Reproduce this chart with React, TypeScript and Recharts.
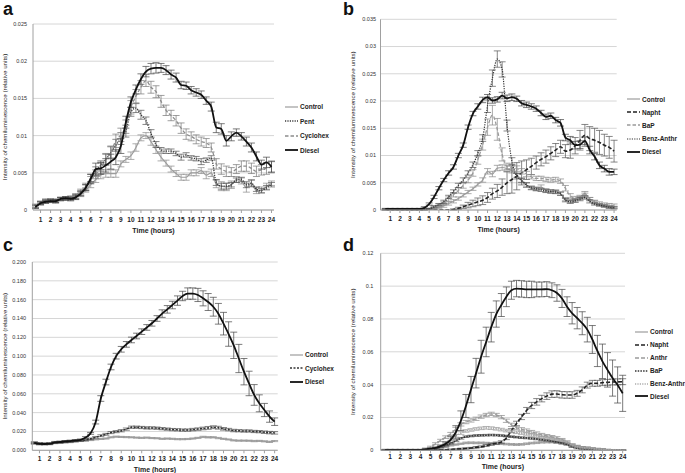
import React from "react";
import {
  LineChart,
  Line,
  XAxis,
  YAxis,
  CartesianGrid,
  ErrorBar,
  Legend,
  Label,
} from "recharts";

// sampling times (every half hour)
const hours = [
  0.5, 1, 1.5, 2, 2.5, 3, 3.5, 4, 4.5, 5, 5.5, 6, 6.5, 7, 7.5, 8, 8.5, 9, 9.5, 10,
  10.5, 11, 11.5, 12, 12.5, 13, 13.5, 14, 14.5, 15, 15.5, 16, 16.5, 17, 17.5, 18,
  18.5, 19, 19.5, 20, 20.5, 21, 21.5, 22, 22.5, 23, 23.5, 24,
];
const hourTicks = [1, 2, 3, 4, 5, 6, 7, 8, 9, 10, 11, 12, 13, 14, 15, 16, 17, 18, 19, 20, 21, 22, 23, 24];

const yTicksA = [0, 0.005, 0.01, 0.015, 0.02, 0.025];
const yTicksB = [0, 0.005, 0.01, 0.015, 0.02, 0.025, 0.03, 0.035];
const yTicksC = [0, 0.02, 0.04, 0.06, 0.08, 0.1, 0.12, 0.14, 0.16, 0.18, 0.2];
const yTicksD = [0, 0.02, 0.04, 0.06, 0.08, 0.1, 0.12];

// ---- panel a ----
const controlA = [0.0005,0.0009,0.0011,0.0012,0.0011,0.0014,0.0015,0.0014,0.0017,0.0021,
  0.0027,0.0034,0.0041,0.0047,0.0049,0.0049,0.0049,0.0062,0.0068,0.0073,
  0.0084,0.0097,0.01,0.0092,0.0081,0.0071,0.0063,0.0055,0.0049,0.0044,
  0.0044,0.005,0.005,0.0053,0.0047,0.005,0.0035,0.0032,0.0031,0.0034,
  0.0041,0.0039,0.003,0.0036,0.0026,0.0027,0.0032,0.0036];
const controlErrA = [0.0002,0.0002,0.0002,0.0002,0.0002,0.0002,0.0002,0.0002,0.0002,0.0003,
  0.0003,0.0004,0.0004,0.0005,0.0005,0.0005,0.0005,0.0004,0.0004,0.0005,
  0.0005,0.0004,0.0004,0.0005,0.0005,0.0005,0.0004,0.0004,0.0004,0.0004,
  0.0004,0.0004,0.0004,0.0004,0.0005,0.0005,0.0005,0.0006,0.0005,0.0005,
  0.0004,0.0004,0.0006,0.0005,0.0004,0.0004,0.0004,0.0003];
const pentA = [0.0005,0.001,0.0012,0.0013,0.0012,0.0015,0.0015,0.0016,0.0018,0.0023,
  0.003,0.0043,0.0052,0.006,0.0068,0.0077,0.0087,0.0096,0.0106,0.0132,
  0.0137,0.0128,0.012,0.0103,0.0088,0.0081,0.0079,0.0079,0.0076,0.0071,
  0.0074,0.007,0.0069,0.0065,0.0067,0.007,0.0037,0.0032,0.0032,0.0034,
  0.004,0.0041,0.0034,0.0036,0.0028,0.0026,0.003,0.0034];
const pentErrA = [0.0002,0.0002,0.0002,0.0002,0.0002,0.0002,0.0002,0.0002,0.0003,0.0003,
  0.0004,0.0005,0.0006,0.0006,0.0007,0.0008,0.0008,0.0008,0.0008,0.0006,
  0.0006,0.0006,0.0005,0.0005,0.0004,0.0003,0.0003,0.0003,0.0003,0.0004,
  0.0003,0.0003,0.0003,0.0004,0.0003,0.0003,0.0004,0.0004,0.0004,0.0003,
  0.0003,0.0003,0.0004,0.0004,0.0003,0.0003,0.0003,0.0003];
const cyclohexA = [0.0006,0.0009,0.0013,0.0013,0.0013,0.0015,0.0016,0.0017,0.0019,0.0025,
  0.0032,0.004,0.0048,0.0056,0.0068,0.0078,0.0093,0.0101,0.0112,0.0138,
  0.0153,0.0165,0.0174,0.0165,0.0159,0.0146,0.0134,0.0127,0.012,0.011,
  0.0102,0.0099,0.0095,0.0092,0.009,0.0084,0.0062,0.0055,0.0052,0.0051,
  0.0055,0.0059,0.0059,0.0056,0.0052,0.0054,0.0056,0.0058];
const cyclohexErrA = [0.0002,0.0002,0.0002,0.0002,0.0002,0.0002,0.0002,0.0002,0.0003,0.0003,
  0.0004,0.0005,0.0006,0.0007,0.0008,0.0008,0.0009,0.0009,0.0009,0.0009,
  0.0009,0.0009,0.0008,0.0008,0.0008,0.0008,0.0007,0.0007,0.0007,0.0007,
  0.0007,0.0006,0.0006,0.0006,0.0006,0.0006,0.0007,0.0007,0.0007,0.0006,
  0.0006,0.0007,0.0007,0.0007,0.0007,0.0007,0.0008,0.0008];
const dieselA = [0.0004,0.0009,0.0011,0.0012,0.0012,0.0015,0.0016,0.0015,0.0017,0.0022,
  0.003,0.0042,0.0055,0.0056,0.006,0.0065,0.0071,0.0086,0.0118,0.0145,
  0.0162,0.0176,0.0186,0.019,0.0191,0.0191,0.0188,0.0182,0.0178,0.0168,
  0.0167,0.0161,0.0158,0.0155,0.0147,0.0139,0.0111,0.0109,0.0093,0.0099,
  0.0104,0.0099,0.0092,0.0084,0.0072,0.0061,0.0064,0.0058];
const dieselErrA = [0.0002,0.0002,0.0002,0.0002,0.0002,0.0002,0.0002,0.0002,0.0003,0.0003,
  0.0004,0.0006,0.0008,0.0008,0.0009,0.001,0.001,0.001,0.0008,0.0007,
  0.0006,0.0007,0.0007,0.0007,0.0007,0.0006,0.0006,0.0006,0.0006,0.0005,
  0.0005,0.0005,0.0005,0.0005,0.0005,0.0006,0.0007,0.0007,0.0007,0.0006,
  0.0005,0.0005,0.0006,0.0006,0.0006,0.0006,0.0007,0.0007];

// ---- panel b ----
const controlB = [0.0001,0.0001,0.0001,0.0001,0.0001,0.0001,0.0001,0.0001,0.0001,0.0002,
  0.0003,0.0005,0.0008,0.0012,0.0016,0.0021,0.0027,0.0033,0.0039,0.0047,
  0.0055,0.0071,0.0066,0.0077,0.0078,0.0076,0.0072,0.0064,0.0055,0.0046,
  0.004,0.0038,0.0042,0.0036,0.0034,0.0034,0.003,0.002,0.0017,0.0018,
  0.0024,0.003,0.002,0.0014,0.001,0.0008,0.0006,0.0005];
const controlErrB = [0.0001,0.0001,0.0001,0.0001,0.0001,0.0001,0.0001,0.0001,0.0001,0.0001,
  0.0002,0.0002,0.0003,0.0003,0.0003,0.0003,0.0003,0.0003,0.0003,0.0003,
  0.0004,0.0005,0.0005,0.0005,0.0005,0.0005,0.0004,0.0004,0.0004,0.0004,
  0.0003,0.0003,0.0004,0.0003,0.0003,0.0003,0.0003,0.0003,0.0003,0.0003,
  0.0003,0.0004,0.0003,0.0003,0.0002,0.0002,0.0002,0.0002];
const naphtB = [0,0,0,0,0,0,0,0,0,0,
  0,0,0,0,0.0001,0.0003,0.0006,0.0009,0.0012,0.0015,
  0.0018,0.0023,0.003,0.0035,0.0042,0.005,0.0056,0.0062,0.0068,0.0074,
  0.008,0.0087,0.0093,0.0098,0.0104,0.011,0.0116,0.0108,0.011,0.0118,
  0.0128,0.0137,0.0131,0.0128,0.0124,0.0119,0.0115,0.0108];
const naphtErrB = [0,0,0,0,0,0,0,0,0,0,
  0,0,0,0,0.0001,0.0002,0.0003,0.0005,0.0006,0.0007,
  0.0008,0.0009,0.001,0.0012,0.0015,0.002,0.0025,0.0025,0.0022,0.0018,
  0.0015,0.0012,0.0012,0.0012,0.0012,0.0012,0.0012,0.0012,0.0015,0.0015,
  0.0018,0.002,0.0022,0.0022,0.0022,0.002,0.002,0.002];
const bapB = [0.0001,0.0001,0.0001,0.0001,0.0001,0.0001,0.0001,0.0001,0.0001,0.0002,
  0.0004,0.0008,0.0012,0.002,0.0028,0.0036,0.0045,0.0055,0.0068,0.0092,
  0.012,0.0152,0.0174,0.0148,0.0102,0.008,0.0078,0.0076,0.0071,0.0066,
  0.0061,0.0058,0.0058,0.0056,0.0055,0.0056,0.0053,0.004,0.0026,0.0022,
  0.0022,0.0027,0.002,0.0015,0.0012,0.001,0.0009,0.0008];
const bapErrB = [0.0001,0.0001,0.0001,0.0001,0.0001,0.0001,0.0001,0.0001,0.0001,0.0001,
  0.0002,0.0003,0.0003,0.0004,0.0004,0.0005,0.0005,0.0005,0.0006,0.0008,
  0.001,0.0015,0.0018,0.002,0.0012,0.0006,0.0005,0.0005,0.0005,0.0005,
  0.0004,0.0004,0.0004,0.0004,0.0004,0.0004,0.0004,0.0005,0.0004,0.0003,
  0.0003,0.0004,0.0003,0.0003,0.0003,0.0003,0.0003,0.0003];
const benzB = [0.0001,0.0001,0.0001,0.0001,0.0001,0.0001,0.0001,0.0001,0.0001,0.0002,
  0.0006,0.001,0.0015,0.0024,0.0034,0.0045,0.0055,0.0068,0.0083,0.0104,
  0.0132,0.0192,0.0242,0.0277,0.0258,0.0155,0.009,0.0062,0.0054,0.0046,
  0.0041,0.0039,0.0037,0.0035,0.0034,0.0033,0.003,0.0018,0.0015,0.0017,
  0.002,0.0023,0.0016,0.0011,0.0009,0.0007,0.0005,0.0004];
const benzErrB = [0.0001,0.0001,0.0001,0.0001,0.0001,0.0001,0.0001,0.0001,0.0001,0.0001,
  0.0002,0.0002,0.0003,0.0003,0.0003,0.0004,0.0004,0.0004,0.0005,0.0005,
  0.0006,0.0013,0.0015,0.0015,0.0014,0.001,0.0006,0.0005,0.0004,0.0004,
  0.0003,0.0003,0.0003,0.0003,0.0003,0.0003,0.0003,0.0003,0.0003,0.0003,
  0.0003,0.0003,0.0003,0.0002,0.0002,0.0002,0.0002,0.0002];
const dieselB = [0.0002,0.0002,0.0002,0.0002,0.0002,0.0002,0.0002,0.0002,0.0004,0.0011,
  0.0024,0.004,0.0055,0.0068,0.0079,0.01,0.0119,0.0152,0.0177,0.019,
  0.0202,0.0207,0.0201,0.0203,0.021,0.0205,0.0207,0.0204,0.0196,0.0193,
  0.019,0.0186,0.0178,0.0171,0.0173,0.0165,0.016,0.0133,0.0128,0.0119,
  0.012,0.0127,0.011,0.0098,0.0082,0.0076,0.007,0.007];
const dieselErrB = [0.0001,0.0001,0.0001,0.0001,0.0001,0.0001,0.0001,0.0001,0.0002,0.0002,
  0.0003,0.0003,0.0003,0.0004,0.0004,0.0004,0.0004,0.0004,0.0004,0.0005,
  0.0005,0.0005,0.0005,0.0005,0.0006,0.0006,0.0006,0.0005,0.0005,0.0005,
  0.0005,0.0005,0.0005,0.0005,0.0005,0.0005,0.0006,0.0006,0.0007,0.0007,
  0.0007,0.0007,0.0007,0.0006,0.0006,0.0006,0.0006,0.0005];

// ---- panel c ----
const controlC = [0.0075,0.007,0.0068,0.0066,0.0075,0.0078,0.0082,0.0086,0.0092,0.0098,
  0.0102,0.0108,0.0115,0.012,0.0125,0.0138,0.0145,0.0142,0.014,0.0138,
  0.0135,0.0132,0.0135,0.013,0.0128,0.0122,0.0125,0.0122,0.0118,0.0118,
  0.012,0.0125,0.0132,0.0142,0.0138,0.0138,0.013,0.0122,0.0115,0.0105,
  0.0103,0.0103,0.0102,0.0098,0.01,0.0095,0.009,0.0098];
const controlErrC = [0.0008,0.0006,0.0005,0.0005,0.0005,0.0005,0.0005,0.0005,0.0005,0.0005,
  0.0005,0.0005,0.0005,0.0005,0.0006,0.0006,0.0006,0.0006,0.0006,0.0006,
  0.0006,0.0006,0.0006,0.0006,0.0006,0.0006,0.0006,0.0006,0.0006,0.0006,
  0.0006,0.0006,0.0006,0.0007,0.0007,0.0007,0.0007,0.0006,0.0006,0.0006,
  0.0006,0.0006,0.0006,0.0007,0.0006,0.0006,0.0007,0.0006];
const cyclohexC = [0.008,0.0072,0.007,0.007,0.0082,0.0085,0.009,0.0093,0.0098,0.0103,
  0.011,0.0122,0.0138,0.0155,0.017,0.0188,0.0198,0.0208,0.0225,0.0245,
  0.0245,0.0242,0.0238,0.0238,0.0235,0.023,0.0225,0.022,0.0218,0.0215,
  0.0215,0.022,0.0225,0.0232,0.0238,0.0245,0.024,0.0228,0.022,0.021,
  0.0208,0.0205,0.0205,0.02,0.0198,0.0192,0.0188,0.0185];
const cyclohexErrC = [0.0008,0.0006,0.0006,0.0006,0.0006,0.0006,0.0006,0.0006,0.0006,0.0006,
  0.0008,0.0008,0.0009,0.001,0.001,0.0011,0.0011,0.0012,0.0012,0.0012,
  0.0012,0.0012,0.0012,0.0012,0.0012,0.0012,0.0012,0.0012,0.0012,0.0012,
  0.0012,0.0013,0.0013,0.0014,0.0015,0.0015,0.0015,0.0014,0.0013,0.0013,
  0.0012,0.0012,0.0012,0.0012,0.0012,0.0013,0.0013,0.0013];
const dieselC = [0.0078,0.0068,0.0067,0.007,0.0084,0.0088,0.0094,0.0098,0.0104,0.011,
  0.0135,0.018,0.03,0.055,0.0725,0.0885,0.1,0.1073,0.1125,0.1172,
  0.1214,0.126,0.1305,0.1349,0.14,0.1452,0.1497,0.1543,0.159,0.1639,
  0.1665,0.1665,0.165,0.1614,0.1575,0.1525,0.145,0.1345,0.1235,0.1115,
  0.0975,0.0835,0.071,0.0588,0.0499,0.0428,0.0358,0.0304];
const dieselErrC = [0.001,0.001,0.001,0.001,0.001,0.001,0.001,0.001,0.001,0.001,
  0.001,0.001,0.002,0.003,0.003,0.003,0.003,0.003,0.003,0.003,
  0.003,0.003,0.003,0.003,0.003,0.004,0.004,0.004,0.005,0.005,
  0.006,0.006,0.007,0.008,0.009,0.01,0.011,0.012,0.013,0.014,
  0.015,0.014,0.013,0.011,0.009,0.007,0.006,0.004];

// ---- panel d ----
const controlD = [0.0002,0.0002,0.0002,0.0002,0.0002,0.0002,0.0002,0.0002,0.0002,0.0005,
  0.001,0.0015,0.002,0.003,0.0035,0.004,0.0045,0.0046,0.0045,0.0045,
  0.0044,0.0042,0.004,0.004,0.0038,0.0036,0.0035,0.0036,0.004,0.0044,
  0.0046,0.0049,0.005,0.005,0.0048,0.0045,0.004,0.003,0.0024,0.0019,
  0.0015,0.0012,0.001,0.0008,0.0005,0.0003,0.0002,0.0002];
const controlErrD = [0.0002,0.0002,0.0002,0.0002,0.0002,0.0002,0.0002,0.0002,0.0002,0.0002,
  0.0002,0.0003,0.0003,0.0004,0.0004,0.0004,0.0005,0.0005,0.0005,0.0005,
  0.0005,0.0005,0.0005,0.0005,0.0005,0.0005,0.0005,0.0005,0.0005,0.0005,
  0.0005,0.0005,0.0005,0.0005,0.0005,0.0005,0.0005,0.0005,0.0004,0.0004,
  0.0004,0.0003,0.0003,0.0003,0.0002,0.0002,0.0002,0.0002];
const naphtD = [0.0002,0.0002,0.0002,0.0002,0.0002,0.0002,0.0002,0.0002,0.0002,0.0002,
  0.0002,0.0002,0.0003,0.0005,0.0007,0.0009,0.0011,0.0014,0.0018,0.0022,
  0.0029,0.0036,0.0043,0.005,0.0075,0.012,0.0163,0.0203,0.0243,0.0273,
  0.0295,0.0315,0.033,0.0342,0.0343,0.0338,0.0337,0.0337,0.0347,0.0368,
  0.0397,0.0408,0.0408,0.0412,0.0414,0.0416,0.0417,0.0418];
const naphtErrD = [0.0002,0.0002,0.0002,0.0002,0.0002,0.0002,0.0002,0.0002,0.0002,0.0002,
  0.0002,0.0002,0.0003,0.0003,0.0003,0.0004,0.0004,0.0004,0.0005,0.0005,
  0.0006,0.0006,0.0007,0.0008,0.001,0.0012,0.0014,0.0016,0.0018,0.0019,
  0.002,0.002,0.002,0.002,0.002,0.002,0.002,0.002,0.0018,0.0018,
  0.0018,0.0018,0.0018,0.0018,0.0018,0.0018,0.0018,0.0018];
const anthrD = [0.0002,0.0002,0.0002,0.0002,0.0002,0.0002,0.0002,0.0002,0.001,0.002,
  0.004,0.006,0.008,0.01,0.013,0.0158,0.0172,0.0182,0.0192,0.0205,
  0.0215,0.0222,0.0215,0.0202,0.018,0.0155,0.0138,0.0128,0.012,0.0112,
  0.0103,0.0094,0.0088,0.0082,0.0075,0.0065,0.005,0.0033,0.0025,0.0017,
  0.0015,0.0011,0.0008,0.0005,0.0003,0.0002,0.0002,0.0001];
const anthrErrD = [0.0002,0.0002,0.0002,0.0002,0.0002,0.0002,0.0002,0.0002,0.0004,0.0005,
  0.0006,0.0007,0.0008,0.0009,0.001,0.001,0.001,0.001,0.001,0.001,
  0.001,0.001,0.001,0.001,0.001,0.001,0.001,0.001,0.001,0.0009,
  0.0009,0.0009,0.0008,0.0008,0.0008,0.0007,0.0007,0.0007,0.0006,0.0005,
  0.0005,0.0004,0.0003,0.0003,0.0002,0.0002,0.0002,0.0002];
const bapD = [0.0002,0.0002,0.0002,0.0002,0.0002,0.0002,0.0002,0.0002,0.0002,0.0005,
  0.001,0.002,0.003,0.0042,0.0058,0.0073,0.0083,0.0087,0.009,0.0091,
  0.0092,0.0093,0.0092,0.009,0.0087,0.0083,0.008,0.0077,0.0075,0.0072,
  0.0069,0.0065,0.0061,0.0056,0.005,0.0043,0.0035,0.0021,0.0013,0.0009,
  0.0008,0.0006,0.0004,0.0003,0.0002,0.0001,0.0001,0.0001];
const bapErrD = [0.0002,0.0002,0.0002,0.0002,0.0002,0.0002,0.0002,0.0002,0.0002,0.0002,
  0.0003,0.0003,0.0004,0.0004,0.0005,0.0005,0.0005,0.0005,0.0005,0.0005,
  0.0005,0.0005,0.0005,0.0005,0.0005,0.0005,0.0005,0.0005,0.0005,0.0005,
  0.0005,0.0005,0.0005,0.0005,0.0005,0.0005,0.0004,0.0004,0.0004,0.0003,
  0.0003,0.0003,0.0002,0.0002,0.0002,0.0002,0.0002,0.0002];
const benzD = [0.0002,0.0002,0.0002,0.0002,0.0002,0.0002,0.0002,0.0002,0.0002,0.0008,
  0.0018,0.003,0.0048,0.0068,0.0088,0.0105,0.0118,0.0124,0.013,0.0134,
  0.0137,0.0135,0.0131,0.0126,0.012,0.0115,0.011,0.0105,0.0099,0.0092,
  0.0086,0.008,0.0075,0.007,0.0066,0.006,0.005,0.0032,0.0022,0.0016,
  0.0015,0.0011,0.0008,0.0005,0.0003,0.0002,0.0002,0.0001];
const benzErrD = [0.0002,0.0002,0.0002,0.0002,0.0002,0.0002,0.0002,0.0002,0.0002,0.0002,
  0.0004,0.0005,0.0006,0.0007,0.0008,0.0008,0.0008,0.0008,0.0008,0.0008,
  0.0008,0.0008,0.0008,0.0008,0.0008,0.0008,0.0008,0.0008,0.0007,0.0007,
  0.0007,0.0007,0.0007,0.0006,0.0006,0.0006,0.0006,0.0006,0.0005,0.0004,
  0.0004,0.0003,0.0003,0.0002,0.0002,0.0002,0.0002,0.0002];
const dieselD = [0.0003,0.0003,0.0003,0.0003,0.0003,0.0003,0.0003,0.0003,0.0005,0.001,
  0.0015,0.0025,0.004,0.0065,0.011,0.018,0.027,0.037,0.047,0.057,
  0.066,0.075,0.083,0.0885,0.0935,0.0975,0.0985,0.0983,0.098,0.098,
  0.098,0.098,0.0982,0.0975,0.0958,0.0925,0.0875,0.0835,0.0805,0.0774,
  0.0735,0.0675,0.0605,0.0542,0.049,0.044,0.0398,0.0347];
const dieselErrD = [0.0003,0.0003,0.0003,0.0003,0.0003,0.0003,0.0003,0.0003,0.0003,0.0003,
  0.0003,0.0003,0.001,0.002,0.004,0.006,0.007,0.008,0.009,0.01,
  0.009,0.009,0.008,0.007,0.006,0.0055,0.005,0.005,0.005,0.005,
  0.0045,0.0045,0.0045,0.0045,0.005,0.0055,0.006,0.0065,0.0065,0.007,
  0.0075,0.0085,0.0095,0.0105,0.0105,0.011,0.011,0.011];

type Series = {
  key: string;
  name: string;
  values: number[];
  errors: number[];
  stroke: string;
  width: number;
  dash?: string;
  errStroke?: string;
};

const FONT = '"Liberation Sans", Arial, sans-serif';
const CONTROL = { stroke: "#9c9c9c", width: 1.2, errStroke: "#8a8a8a" };
const DIESEL = { stroke: "#111111", width: 1.8, errStroke: "#444444" };

const seriesA: Series[] = [
  { key: "control", name: "Control", values: controlA, errors: controlErrA, ...CONTROL },
  { key: "pent", name: "Pent", values: pentA, errors: pentErrA, stroke: "#3a3a3a", width: 1.3, dash: "1.2 1.2", errStroke: "#555" },
  { key: "cyclohex", name: "Cyclohex", values: cyclohexA, errors: cyclohexErrA, stroke: "#8c8c8c", width: 1.3, dash: "3.5 2", errStroke: "#777" },
  { key: "diesel", name: "Diesel", values: dieselA, errors: dieselErrA, ...DIESEL },
];
const seriesB: Series[] = [
  { key: "control", name: "Control", values: controlB, errors: controlErrB, ...CONTROL },
  { key: "napht", name: "Napht", values: naphtB, errors: naphtErrB, stroke: "#222", width: 1.6, dash: "4 2", errStroke: "#555" },
  { key: "bap", name: "BaP", values: bapB, errors: bapErrB, stroke: "#9a9a9a", width: 1.3, dash: "3.5 2", errStroke: "#888" },
  { key: "benz", name: "Benz-Anthr", values: benzB, errors: benzErrB, stroke: "#333", width: 1.2, dash: "1.2 1.2", errStroke: "#555" },
  { key: "diesel", name: "Diesel", values: dieselB, errors: dieselErrB, ...DIESEL },
];
const seriesC: Series[] = [
  { key: "control", name: "Control", values: controlC, errors: controlErrC, ...CONTROL },
  { key: "cyclohex", name: "Cyclohex", values: cyclohexC, errors: cyclohexErrC, stroke: "#333", width: 1.5, dash: "2 1.5", errStroke: "#555" },
  { key: "diesel", name: "Diesel", values: dieselC, errors: dieselErrC, ...DIESEL },
];
const seriesD: Series[] = [
  { key: "control", name: "Control", values: controlD, errors: controlErrD, ...CONTROL },
  { key: "napht", name: "Napht", values: naphtD, errors: naphtErrD, stroke: "#222", width: 1.6, dash: "4 2", errStroke: "#555" },
  { key: "anthr", name: "Anthr", values: anthrD, errors: anthrErrD, stroke: "#9a9a9a", width: 1.4, dash: "4 2", errStroke: "#888" },
  { key: "bap", name: "BaP", values: bapD, errors: bapErrD, stroke: "#333", width: 1.6, dash: "1.5 1.2", errStroke: "#555" },
  { key: "benz", name: "Benz-Anthr", values: benzD, errors: benzErrD, stroke: "#aaaaaa", width: 1.3, dash: "1.2 1.2", errStroke: "#999" },
  { key: "diesel", name: "Diesel", values: dieselD, errors: dieselErrD, ...DIESEL },
];

const buildRows = (series: Series[]) =>
  hours.map((t, i) => {
    const row: Record<string, number> = { t };
    series.forEach((s) => {
      row[s.key] = s.values[i];
      row[s.key + "Err"] = s.errors[i];
    });
    return row;
  });

const fmtShort = (v: number) => (v === 0 ? "0" : String(+v.toFixed(3)));
const fmtFixed = (v: number) => v.toFixed(3);

type PanelProps = {
  letter: string;
  left: number;
  top: number;
  width: number;
  height: number;
  plotLeft: number;
  plotRight: number;
  plotTop: number;
  plotBottom: number;
  xDomain: [number, number];
  yTicks: number[];
  yFormat: (v: number) => string;
  yTickGap: number;
  yTitleX: number;
  xTickGap: number;
  xTitleOffset: number;
  series: Series[];
  legendLeft: number;
  legendTop: number;
  legendStep: number;
};

const LegendBox = ({ series, step }: { series: Series[]; step: number }) => (
  <div style={{ fontFamily: FONT }}>
    {series.map((s) => (
      <div key={s.key} style={{ display: "flex", alignItems: "center", height: step }}>
        <svg width={13} height={6} style={{ marginRight: 2 }}>
          <line x1={0} y1={3} x2={13} y2={3} stroke={s.stroke} strokeWidth={s.width} strokeDasharray={s.dash} />
        </svg>
        <span style={{ fontSize: 6.5, fontWeight: "bold", color: "#222", whiteSpace: "nowrap" }}>{s.name}</span>
      </div>
    ))}
  </div>
);

const Panel = (p: PanelProps) => {
  const data = buildRows(p.series);
  const xAxisHeight = p.height - p.plotBottom;
  return (
    <div style={{ position: "absolute", left: p.left, top: p.top, width: p.width, height: p.height }}>
      <div
        style={{
          position: "absolute",
          left: 3,
          top: 0,
          fontFamily: FONT,
          fontSize: 18,
          fontWeight: "bold",
          lineHeight: 1,
          color: "#111",
          zIndex: 2,
        }}
      >
        {p.letter}
      </div>
      <LineChart
        width={p.width}
        height={p.height}
        data={data}
        margin={{ top: p.plotTop, right: p.width - p.plotRight, bottom: 0, left: 0 }}
        style={{ fontFamily: FONT }}
      >
        <CartesianGrid vertical={false} stroke="#d6d6d6" strokeWidth={1} />
        <XAxis
          type="number"
          dataKey="t"
          domain={p.xDomain}
          ticks={hourTicks}
          interval={0}
          allowDataOverflow
          height={xAxisHeight}
          stroke="#a0a0a0"
          tickSize={3}
          tickMargin={p.xTickGap}
          tick={{ fontSize: 6.5, fontWeight: "bold", fill: "#222" }}
        >
          <Label
            value="Time (hours)"
            position="insideBottom"
            offset={p.xTitleOffset}
            style={{ fontSize: 7, fontWeight: "bold", fill: "#222" }}
          />
        </XAxis>
        <YAxis
          type="number"
          domain={[p.yTicks[0], p.yTicks[p.yTicks.length - 1]]}
          ticks={p.yTicks}
          interval={0}
          allowDataOverflow
          width={p.plotLeft}
          stroke="#a0a0a0"
          tickSize={0}
          tickMargin={p.yTickGap}
          tickFormatter={p.yFormat}
          tick={{ fontSize: 5.5, fill: "#333" }}
        >
          <Label
            value="Intensity of chemiluminescence (relative units)"
            angle={-90}
            position="insideLeft"
            offset={p.yTitleX}
            style={{ textAnchor: "middle", fontSize: 6.2, fill: "#222" }}
          />
        </YAxis>
        <Legend
          layout="vertical"
          align="center"
          verticalAlign="middle"
          wrapperStyle={{ left: p.legendLeft, top: p.legendTop, width: 50, height: "auto" }}
          content={() => <LegendBox series={p.series} step={p.legendStep} />}
        />
        {p.series.map((s) => (
          <Line
            key={s.key}
            type="monotone"
            dataKey={s.key}
            name={s.name}
            stroke={s.stroke}
            strokeWidth={s.width}
            strokeDasharray={s.dash}
            dot={false}
            activeDot={false}
            isAnimationActive={false}
          >
            <ErrorBar dataKey={s.key + "Err"} width={3.5} stroke={s.errStroke ?? "#555"} strokeWidth={0.7} />
          </Line>
        ))}
      </LineChart>
    </div>
  );
};

export default function App() {
  return (
    <div style={{ position: "absolute", left: 0, top: 0, width: 685, height: 473, background: "#fff", overflow: "hidden" }}>
      <Panel
        letter="a"
        left={0}
        top={0}
        width={340}
        height={236}
        plotLeft={33}
        plotRight={274}
        plotTop={24}
        plotBottom={210}
        xDomain={[0.25, 24.25]}
        yTicks={yTicksA}
        yFormat={fmtShort}
        yTickGap={6}
        yTitleX={5}
        xTickGap={4.7}
        xTitleOffset={3.5}
        series={seriesA}
        legendLeft={285}
        legendTop={99.8}
        legendStep={14.4}
      />
      <Panel
        letter="b"
        left={340}
        top={0}
        width={345}
        height={236}
        plotLeft={40.5}
        plotRight={276.7}
        plotTop={19.3}
        plotBottom={210}
        xDomain={[0, 24.27]}
        yTicks={yTicksB}
        yFormat={fmtShort}
        yTickGap={4.5}
        yTitleX={12.7}
        xTickGap={3.7}
        xTitleOffset={4.5}
        series={seriesB}
        legendLeft={287}
        legendTop={92.75}
        legendStep={13.1}
      />
      <Panel
        letter="c"
        left={0}
        top={236}
        width={340}
        height={237}
        plotLeft={32.3}
        plotRight={277.7}
        plotTop={26}
        plotBottom={214.3}
        xDomain={[0.3, 24.3]}
        yTicks={yTicksC}
        yFormat={fmtFixed}
        yTickGap={6.3}
        yTitleX={5}
        xTickGap={3.1}
        xTitleOffset={1.5}
        series={seriesC}
        legendLeft={290}
        legendTop={112.35}
        legendStep={13.3}
      />
      <Panel
        letter="d"
        left={340}
        top={236}
        width={345}
        height={237}
        plotLeft={40.7}
        plotRight={285}
        plotTop={17.3}
        plotBottom={214.3}
        xDomain={[0.07, 24.23]}
        yTicks={yTicksD}
        yFormat={(v: number) => (v === 0 ? "0" : String(+v.toFixed(2)))}
        yTickGap={7.4}
        yTitleX={12.7}
        xTickGap={1.1}
        xTitleOffset={4.5}
        series={seriesD}
        legendLeft={295}
        legendTop={89.55}
        legendStep={12.9}
      />
    </div>
  );
}
